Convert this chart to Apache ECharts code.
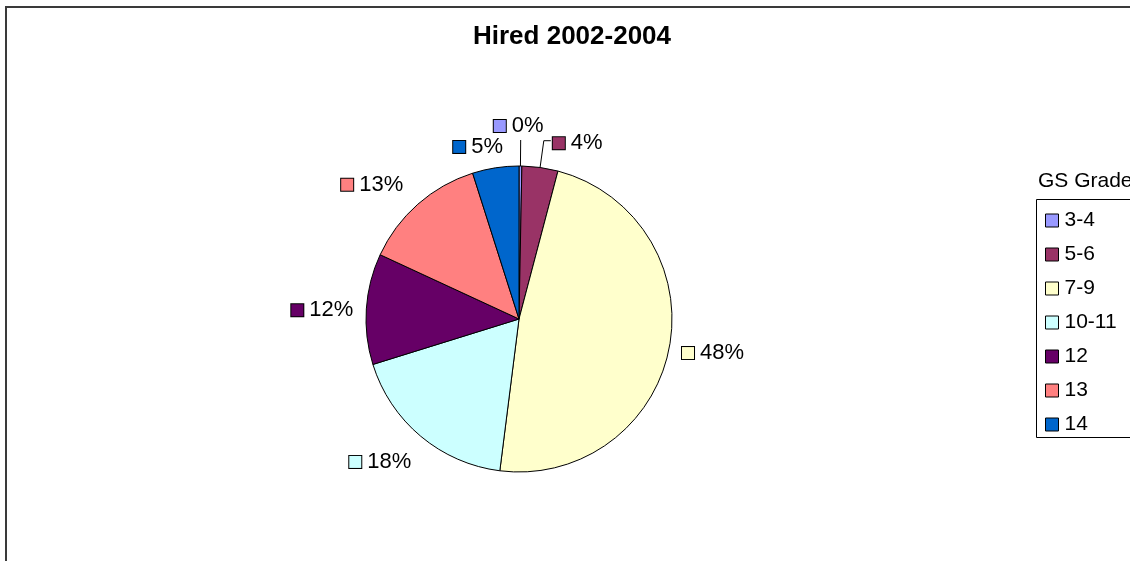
<!DOCTYPE html>
<html>
<head>
<meta charset="utf-8">
<script src="https://cdn.jsdelivr.net/npm/echarts@6/dist/echarts.min.js"></script>
<style>
html,body{margin:0;padding:0;background:#fff;}
#chart{width:1130px;height:561px;}
</style>
</head>
<body>
<div id="chart"></div>
<script>
// ---- data ----
const chartTitle = 'Hired 2002-2004';
const legendTitle = 'GS Grade';
const grades = ['3-4', '5-6', '7-9', '10-11', '12', '13', '14'];
const shares = [0.3, 3.8, 47.9, 18.2, 11.7, 13.2, 4.9];

// ---- styles ----
const colors = ['#9999FF', '#993366', '#FFFFCC', '#CCFFFF', '#660066', '#FF8080', '#0066CC'];
const FONT = '"Liberation Sans", Arial, sans-serif';
const lineLen  = [26, 27, 10, 10, 10, 10, 10];
const lineLen2 = [0, 7, 0, 0, 0, 0, 0];
const lineShow = [true, true, false, false, false, false, false];
const labelDist = [-2, 2, 5, 5, 5, 5, 5];
const labelPad = [[0, 0, 3, 0], [5, 0, 0, 0], 0, 0, 0, 0, 0];
const nudge = [[0, 0], [0, 0], [-2, 3], [2, 18], [2, 2], [-3, -12], [14, -11]];

const rich = { t: { fontSize: 22, color: '#000', fontFamily: FONT, padding: [0, 0, 0, 6] } };
colors.forEach((c, i) => {
  rich['s' + i] = { width: 12, height: 12, backgroundColor: c, borderColor: '#000', borderWidth: 1 };
});

const pieData = grades.map((g, i) => ({
  name: g,
  value: shares[i],
  itemStyle: { color: colors[i] },
  label: { distanceToLabelLine: labelDist[i], padding: labelPad[i] },
  labelLine: { show: lineShow[i], length: lineLen[i], length2: lineLen2[i] }
}));

const chart = echarts.init(document.getElementById('chart'), null, { renderer: 'canvas' });
chart.setOption({
  animation: false,
  backgroundColor: '#fff',
  title: [
    { text: chartTitle, left: 473, top: 24, padding: 0,
      textStyle: { fontSize: 26, fontWeight: 'bold', color: '#000', fontFamily: FONT } },
    { text: legendTitle, left: 1038, top: 171, padding: 0,
      textStyle: { fontSize: 21, fontWeight: 'normal', color: '#000', fontFamily: FONT } }
  ],
  graphic: [
    { type: 'rect', silent: true, shape: { x: 6, y: 7, width: 1400, height: 800 },
      style: { fill: 'none', stroke: '#3a3a3a', lineWidth: 2 } },
    { type: 'rect', silent: true, shape: { x: 1036.5, y: 199.5, width: 200, height: 238 },
      style: { fill: 'none', stroke: '#000', lineWidth: 1 } }
  ],
  legend: {
    orient: 'vertical',
    left: 1045,
    top: 210,
    padding: 0,
    itemWidth: 13,
    itemHeight: 13,
    itemGap: 13,
    icon: 'rect',
    selectedMode: false,
    data: grades,
    itemStyle: { borderColor: '#000', borderWidth: 1 },
    textStyle: { fontSize: 21, color: '#000', fontFamily: FONT, padding: [0, 0, 0, 1] }
  },
  series: [{
    type: 'pie',
    center: [519, 319],
    radius: 153,
    startAngle: 90,
    clockwise: true,
    avoidLabelOverlap: false,
    percentPrecision: 0,
    emphasis: { disabled: true },
    itemStyle: { borderColor: '#000', borderWidth: 1 },
    label: {
      show: true,
      position: 'outside',
      formatter: p => '{s' + p.dataIndex + '|}{t|' + p.percent + '%}',
      rich: rich
    },
    labelLine: { lineStyle: { color: '#000', width: 1 }, smooth: false },
    labelLayout: function (params) {
      const i = params.dataIndex;
      if (i === 0) return { align: 'center', verticalAlign: 'bottom' };
      if (i === 1) return {};
      return { dx: nudge[i][0], dy: nudge[i][1] };
    },
    data: pieData
  }]
});
</script>
</body>
</html>
